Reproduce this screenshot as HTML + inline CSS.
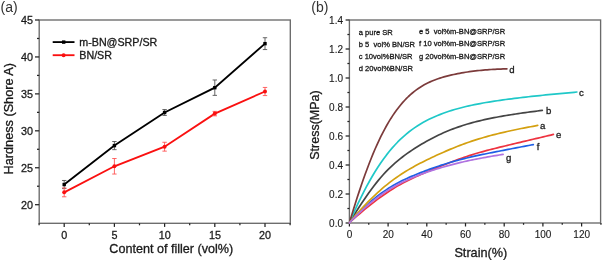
<!DOCTYPE html>
<html><head><meta charset="utf-8"><style>
html,body{margin:0;padding:0;background:#fff;width:602px;height:260px;overflow:hidden}
svg{display:block;will-change:transform}
text{font-family:"Liberation Sans", sans-serif;fill:#1a1a1a;stroke:#1a1a1a;stroke-width:0.3px}
</style></head><body>
<svg width="602" height="260" viewBox="0 0 602 260">
<text x="0.60" y="12.30" font-size="14.0" text-anchor="start" style="stroke-width:0px;fill:#333">(a)</text>
<text x="311.30" y="12.30" font-size="14.0" text-anchor="start" style="stroke-width:0px;fill:#333">(b)</text>
<rect x="39.2" y="20.0" width="251.10" height="203.30" fill="none" stroke="#6a6a6a" stroke-width="1.35"/>
<line x1="35.00" y1="204.70" x2="39.20" y2="204.70" stroke="#222" stroke-width="1.25"/>
<text x="33.00" y="208.50" font-size="10.8" text-anchor="end" style="stroke-width:0.28px">20</text>
<line x1="35.00" y1="167.76" x2="39.20" y2="167.76" stroke="#222" stroke-width="1.25"/>
<text x="33.00" y="171.56" font-size="10.8" text-anchor="end" style="stroke-width:0.28px">25</text>
<line x1="35.00" y1="130.82" x2="39.20" y2="130.82" stroke="#222" stroke-width="1.25"/>
<text x="33.00" y="134.62" font-size="10.8" text-anchor="end" style="stroke-width:0.28px">30</text>
<line x1="35.00" y1="93.88" x2="39.20" y2="93.88" stroke="#222" stroke-width="1.25"/>
<text x="33.00" y="97.68" font-size="10.8" text-anchor="end" style="stroke-width:0.28px">35</text>
<line x1="35.00" y1="56.94" x2="39.20" y2="56.94" stroke="#222" stroke-width="1.25"/>
<text x="33.00" y="60.74" font-size="10.8" text-anchor="end" style="stroke-width:0.28px">40</text>
<line x1="35.00" y1="20.00" x2="39.20" y2="20.00" stroke="#222" stroke-width="1.25"/>
<text x="33.00" y="23.80" font-size="10.8" text-anchor="end" style="stroke-width:0.28px">45</text>
<line x1="37.00" y1="186.23" x2="39.20" y2="186.23" stroke="#222" stroke-width="1.25"/>
<line x1="37.00" y1="149.29" x2="39.20" y2="149.29" stroke="#222" stroke-width="1.25"/>
<line x1="37.00" y1="112.35" x2="39.20" y2="112.35" stroke="#222" stroke-width="1.25"/>
<line x1="37.00" y1="75.41" x2="39.20" y2="75.41" stroke="#222" stroke-width="1.25"/>
<line x1="37.00" y1="38.47" x2="39.20" y2="38.47" stroke="#222" stroke-width="1.25"/>
<line x1="64.20" y1="223.30" x2="64.20" y2="226.90" stroke="#222" stroke-width="1.25"/>
<text x="64.30" y="238.70" font-size="10.8" text-anchor="middle" style="stroke-width:0.28px">0</text>
<line x1="114.40" y1="223.30" x2="114.40" y2="226.90" stroke="#222" stroke-width="1.25"/>
<text x="114.50" y="238.70" font-size="10.8" text-anchor="middle" style="stroke-width:0.28px">5</text>
<line x1="164.60" y1="223.30" x2="164.60" y2="226.90" stroke="#222" stroke-width="1.25"/>
<text x="164.70" y="238.70" font-size="10.8" text-anchor="middle" style="stroke-width:0.28px">10</text>
<line x1="214.80" y1="223.30" x2="214.80" y2="226.90" stroke="#222" stroke-width="1.25"/>
<text x="214.90" y="238.70" font-size="10.8" text-anchor="middle" style="stroke-width:0.28px">15</text>
<line x1="265.00" y1="223.30" x2="265.00" y2="226.90" stroke="#222" stroke-width="1.25"/>
<text x="265.10" y="238.70" font-size="10.8" text-anchor="middle" style="stroke-width:0.28px">20</text>
<line x1="39.10" y1="223.30" x2="39.10" y2="225.30" stroke="#222" stroke-width="1.25"/>
<line x1="89.30" y1="223.30" x2="89.30" y2="225.30" stroke="#222" stroke-width="1.25"/>
<line x1="139.50" y1="223.30" x2="139.50" y2="225.30" stroke="#222" stroke-width="1.25"/>
<line x1="189.70" y1="223.30" x2="189.70" y2="225.30" stroke="#222" stroke-width="1.25"/>
<line x1="239.90" y1="223.30" x2="239.90" y2="225.30" stroke="#222" stroke-width="1.25"/>
<line x1="290.10" y1="223.30" x2="290.10" y2="225.30" stroke="#222" stroke-width="1.25"/>
<text x="109.30" y="253.00" font-size="12.6" text-anchor="start" >Content of filler (vol%)</text>
<text x="13.30" y="118.70" font-size="12.7" text-anchor="middle" transform="rotate(-90 13.3 118.7)">Hardness (Shore A)</text>
<polyline points="64.20,184.53 114.40,145.60 164.60,112.50 214.80,87.67 265.00,43.64" fill="none" stroke="#000" stroke-width="1.85"/>
<line x1="64.20" y1="180.47" x2="64.20" y2="188.59" stroke="#555" stroke-width="0.9"/>
<line x1="62.00" y1="180.47" x2="66.40" y2="180.47" stroke="#555" stroke-width="0.9"/>
<line x1="62.00" y1="188.59" x2="66.40" y2="188.59" stroke="#555" stroke-width="0.9"/>
<rect x="62.50" y="182.83" width="3.4" height="3.4" fill="#000"/>
<line x1="114.40" y1="141.53" x2="114.40" y2="149.66" stroke="#555" stroke-width="0.9"/>
<line x1="112.20" y1="141.53" x2="116.60" y2="141.53" stroke="#555" stroke-width="0.9"/>
<line x1="112.20" y1="149.66" x2="116.60" y2="149.66" stroke="#555" stroke-width="0.9"/>
<rect x="112.70" y="143.90" width="3.4" height="3.4" fill="#000"/>
<line x1="164.60" y1="109.54" x2="164.60" y2="115.45" stroke="#555" stroke-width="0.9"/>
<line x1="162.40" y1="109.54" x2="166.80" y2="109.54" stroke="#555" stroke-width="0.9"/>
<line x1="162.40" y1="115.45" x2="166.80" y2="115.45" stroke="#555" stroke-width="0.9"/>
<rect x="162.90" y="110.80" width="3.4" height="3.4" fill="#000"/>
<line x1="214.80" y1="79.99" x2="214.80" y2="95.36" stroke="#555" stroke-width="0.9"/>
<line x1="212.60" y1="79.99" x2="217.00" y2="79.99" stroke="#555" stroke-width="0.9"/>
<line x1="212.60" y1="95.36" x2="217.00" y2="95.36" stroke="#555" stroke-width="0.9"/>
<rect x="213.10" y="85.97" width="3.4" height="3.4" fill="#000"/>
<line x1="265.00" y1="37.73" x2="265.00" y2="49.55" stroke="#555" stroke-width="0.9"/>
<line x1="262.80" y1="37.73" x2="267.20" y2="37.73" stroke="#555" stroke-width="0.9"/>
<line x1="262.80" y1="49.55" x2="267.20" y2="49.55" stroke="#555" stroke-width="0.9"/>
<rect x="263.30" y="41.94" width="3.4" height="3.4" fill="#000"/>
<polyline points="64.20,192.36 114.40,166.28 164.60,146.70 214.80,113.61 265.00,91.52" fill="none" stroke="#fa1010" stroke-width="1.85"/>
<line x1="64.20" y1="187.93" x2="64.20" y2="196.79" stroke="#f55" stroke-width="0.9"/>
<line x1="62.00" y1="187.93" x2="66.40" y2="187.93" stroke="#f55" stroke-width="0.9"/>
<line x1="62.00" y1="196.79" x2="66.40" y2="196.79" stroke="#f55" stroke-width="0.9"/>
<circle cx="64.20" cy="192.36" r="2.0" fill="#fa1010"/>
<line x1="114.40" y1="158.53" x2="114.40" y2="174.04" stroke="#f55" stroke-width="0.9"/>
<line x1="112.20" y1="158.53" x2="116.60" y2="158.53" stroke="#f55" stroke-width="0.9"/>
<line x1="112.20" y1="174.04" x2="116.60" y2="174.04" stroke="#f55" stroke-width="0.9"/>
<circle cx="114.40" cy="166.28" r="2.0" fill="#fa1010"/>
<line x1="164.60" y1="142.27" x2="164.60" y2="151.14" stroke="#f55" stroke-width="0.9"/>
<line x1="162.40" y1="142.27" x2="166.80" y2="142.27" stroke="#f55" stroke-width="0.9"/>
<line x1="162.40" y1="151.14" x2="166.80" y2="151.14" stroke="#f55" stroke-width="0.9"/>
<circle cx="164.60" cy="146.70" r="2.0" fill="#fa1010"/>
<line x1="214.80" y1="111.39" x2="214.80" y2="115.82" stroke="#f55" stroke-width="0.9"/>
<line x1="212.60" y1="111.39" x2="217.00" y2="111.39" stroke="#f55" stroke-width="0.9"/>
<line x1="212.60" y1="115.82" x2="217.00" y2="115.82" stroke="#f55" stroke-width="0.9"/>
<circle cx="214.80" cy="113.61" r="2.0" fill="#fa1010"/>
<line x1="265.00" y1="87.45" x2="265.00" y2="95.58" stroke="#f55" stroke-width="0.9"/>
<line x1="262.80" y1="87.45" x2="267.20" y2="87.45" stroke="#f55" stroke-width="0.9"/>
<line x1="262.80" y1="95.58" x2="267.20" y2="95.58" stroke="#f55" stroke-width="0.9"/>
<circle cx="265.00" cy="91.52" r="2.0" fill="#fa1010"/>
<line x1="52.70" y1="42.10" x2="74.50" y2="42.10" stroke="#000" stroke-width="1.85"/>
<rect x="62.0" y="40.4" width="3.4" height="3.4" fill="#000"/>
<line x1="52.70" y1="55.20" x2="74.50" y2="55.20" stroke="#fa1010" stroke-width="1.85"/>
<circle cx="63.6" cy="55.2" r="2.0" fill="#fa1010"/>
<text x="79.30" y="46.00" font-size="10.7" text-anchor="start" >m-BN@SRP/SR</text>
<text x="79.30" y="58.80" font-size="10.7" text-anchor="start" >BN/SR</text>
<rect x="349.4" y="20.0" width="251.20" height="203.00" fill="none" stroke="#6a6a6a" stroke-width="1.35"/>
<line x1="345.60" y1="223.00" x2="349.40" y2="223.00" stroke="#222" stroke-width="1.25"/>
<text x="343.00" y="226.50" font-size="10.0" text-anchor="end" style="stroke-width:0.12px">0.0</text>
<line x1="345.60" y1="194.00" x2="349.40" y2="194.00" stroke="#222" stroke-width="1.25"/>
<text x="343.00" y="197.50" font-size="10.0" text-anchor="end" style="stroke-width:0.12px">0.2</text>
<line x1="345.60" y1="165.00" x2="349.40" y2="165.00" stroke="#222" stroke-width="1.25"/>
<text x="343.00" y="168.50" font-size="10.0" text-anchor="end" style="stroke-width:0.12px">0.4</text>
<line x1="345.60" y1="136.00" x2="349.40" y2="136.00" stroke="#222" stroke-width="1.25"/>
<text x="343.00" y="139.50" font-size="10.0" text-anchor="end" style="stroke-width:0.12px">0.6</text>
<line x1="345.60" y1="107.00" x2="349.40" y2="107.00" stroke="#222" stroke-width="1.25"/>
<text x="343.00" y="110.50" font-size="10.0" text-anchor="end" style="stroke-width:0.12px">0.8</text>
<line x1="345.60" y1="78.00" x2="349.40" y2="78.00" stroke="#222" stroke-width="1.25"/>
<text x="343.00" y="81.50" font-size="10.0" text-anchor="end" style="stroke-width:0.12px">1.0</text>
<line x1="345.60" y1="49.00" x2="349.40" y2="49.00" stroke="#222" stroke-width="1.25"/>
<text x="343.00" y="52.50" font-size="10.0" text-anchor="end" style="stroke-width:0.12px">1.2</text>
<line x1="345.60" y1="20.00" x2="349.40" y2="20.00" stroke="#222" stroke-width="1.25"/>
<text x="343.00" y="23.50" font-size="10.0" text-anchor="end" style="stroke-width:0.12px">1.4</text>
<line x1="347.40" y1="208.50" x2="349.40" y2="208.50" stroke="#222" stroke-width="1.25"/>
<line x1="347.40" y1="179.50" x2="349.40" y2="179.50" stroke="#222" stroke-width="1.25"/>
<line x1="347.40" y1="150.50" x2="349.40" y2="150.50" stroke="#222" stroke-width="1.25"/>
<line x1="347.40" y1="121.50" x2="349.40" y2="121.50" stroke="#222" stroke-width="1.25"/>
<line x1="347.40" y1="92.50" x2="349.40" y2="92.50" stroke="#222" stroke-width="1.25"/>
<line x1="347.40" y1="63.50" x2="349.40" y2="63.50" stroke="#222" stroke-width="1.25"/>
<line x1="347.40" y1="34.50" x2="349.40" y2="34.50" stroke="#222" stroke-width="1.25"/>
<line x1="349.40" y1="223.00" x2="349.40" y2="226.50" stroke="#222" stroke-width="1.25"/>
<text x="349.50" y="238.40" font-size="10.0" text-anchor="middle" style="stroke-width:0.12px">0</text>
<line x1="388.10" y1="223.00" x2="388.10" y2="226.50" stroke="#222" stroke-width="1.25"/>
<text x="388.20" y="238.40" font-size="10.0" text-anchor="middle" style="stroke-width:0.12px">20</text>
<line x1="426.80" y1="223.00" x2="426.80" y2="226.50" stroke="#222" stroke-width="1.25"/>
<text x="426.90" y="238.40" font-size="10.0" text-anchor="middle" style="stroke-width:0.12px">40</text>
<line x1="465.50" y1="223.00" x2="465.50" y2="226.50" stroke="#222" stroke-width="1.25"/>
<text x="465.60" y="238.40" font-size="10.0" text-anchor="middle" style="stroke-width:0.12px">60</text>
<line x1="504.20" y1="223.00" x2="504.20" y2="226.50" stroke="#222" stroke-width="1.25"/>
<text x="504.30" y="238.40" font-size="10.0" text-anchor="middle" style="stroke-width:0.12px">80</text>
<line x1="542.90" y1="223.00" x2="542.90" y2="226.50" stroke="#222" stroke-width="1.25"/>
<text x="543.00" y="238.40" font-size="10.0" text-anchor="middle" style="stroke-width:0.12px">100</text>
<line x1="581.60" y1="223.00" x2="581.60" y2="226.50" stroke="#222" stroke-width="1.25"/>
<text x="581.70" y="238.40" font-size="10.0" text-anchor="middle" style="stroke-width:0.12px">120</text>
<line x1="368.75" y1="223.00" x2="368.75" y2="224.80" stroke="#222" stroke-width="1.25"/>
<line x1="407.45" y1="223.00" x2="407.45" y2="224.80" stroke="#222" stroke-width="1.25"/>
<line x1="446.15" y1="223.00" x2="446.15" y2="224.80" stroke="#222" stroke-width="1.25"/>
<line x1="484.85" y1="223.00" x2="484.85" y2="224.80" stroke="#222" stroke-width="1.25"/>
<line x1="523.55" y1="223.00" x2="523.55" y2="224.80" stroke="#222" stroke-width="1.25"/>
<line x1="562.25" y1="223.00" x2="562.25" y2="224.80" stroke="#222" stroke-width="1.25"/>
<line x1="600.95" y1="223.00" x2="600.95" y2="224.80" stroke="#222" stroke-width="1.25"/>
<text x="454.40" y="257.10" font-size="12.7" text-anchor="start" >Strain(%)</text>
<text x="318.80" y="125.00" font-size="12.5" text-anchor="middle" transform="rotate(-90 318.8 125.0)">Stress(MPa)</text>
<polyline points="349.40,222.80 351.81,218.78 354.22,214.85 356.63,210.99 359.04,207.22 361.46,203.53 363.87,199.92 366.28,196.41 368.69,192.99 371.10,189.68 373.51,186.46 375.92,183.37 378.33,180.38 380.75,177.52 383.16,174.78 385.57,172.16 387.98,169.67 390.39,167.29 392.80,165.03 395.21,162.87 397.62,160.81 400.04,158.85 402.45,156.97 404.86,155.16 407.27,153.42 409.68,151.74 412.09,150.12 414.50,148.54 416.91,147.01 419.33,145.52 421.74,144.07 424.15,142.67 426.56,141.30 428.97,139.97 431.38,138.68 433.79,137.43 436.20,136.22 438.62,135.06 441.03,133.93 443.44,132.84 445.85,131.80 448.26,130.79 450.67,129.83 453.08,128.90 455.50,128.01 457.91,127.15 460.32,126.33 462.73,125.54 465.14,124.78 467.55,124.06 469.96,123.36 472.37,122.69 474.78,122.05 477.20,121.43 479.61,120.83 482.02,120.25 484.43,119.70 486.84,119.17 489.25,118.65 491.66,118.16 494.07,117.68 496.49,117.21 498.90,116.77 501.31,116.33 503.72,115.91 506.13,115.51 508.54,115.11 510.95,114.73 513.37,114.35 515.78,113.98 518.19,113.63 520.60,113.27 523.01,112.93 525.42,112.59 527.83,112.26 530.24,111.93 532.65,111.61 535.07,111.29 537.48,110.98 539.89,110.67 542.30,110.37" fill="none" stroke="#444444" stroke-width="1.7" stroke-linejoin="round" stroke-linecap="round"/>
<polyline points="349.40,222.80 352.24,216.22 355.09,209.86 357.93,203.73 360.77,197.82 363.62,192.15 366.46,186.70 369.31,181.49 372.15,176.51 374.99,171.77 377.84,167.27 380.68,163.00 383.52,158.96 386.37,155.15 389.21,151.55 392.06,148.16 394.90,144.97 397.74,141.97 400.59,139.17 403.43,136.54 406.27,134.07 409.12,131.77 411.96,129.62 414.81,127.61 417.65,125.73 420.49,123.97 423.34,122.32 426.18,120.77 429.02,119.33 431.87,117.96 434.71,116.68 437.56,115.48 440.40,114.34 443.24,113.27 446.09,112.25 448.93,111.29 451.77,110.39 454.62,109.53 457.46,108.72 460.31,107.95 463.15,107.22 465.99,106.52 468.84,105.87 471.68,105.24 474.52,104.65 477.37,104.08 480.21,103.54 483.06,103.02 485.90,102.53 488.74,102.05 491.59,101.60 494.43,101.16 497.27,100.73 500.12,100.32 502.96,99.92 505.81,99.53 508.65,99.16 511.49,98.79 514.34,98.43 517.18,98.08 520.02,97.74 522.87,97.40 525.71,97.08 528.56,96.76 531.40,96.45 534.24,96.14 537.09,95.84 539.93,95.55 542.77,95.26 545.62,94.97 548.46,94.69 551.31,94.42 554.15,94.14 556.99,93.87 559.84,93.60 562.68,93.34 565.52,93.07 568.37,92.81 571.21,92.54 574.06,92.28 576.90,92.02" fill="none" stroke="#1fc8c8" stroke-width="1.7" stroke-linejoin="round" stroke-linecap="round"/>
<polyline points="349.40,222.80 351.37,216.22 353.34,209.79 355.31,203.50 357.27,197.36 359.24,191.36 361.21,185.52 363.18,179.84 365.15,174.32 367.12,168.96 369.09,163.78 371.06,158.77 373.02,153.94 374.99,149.29 376.96,144.83 378.93,140.55 380.90,136.46 382.87,132.55 384.84,128.82 386.81,125.27 388.77,121.89 390.74,118.68 392.71,115.63 394.68,112.74 396.65,110.00 398.62,107.42 400.59,104.97 402.56,102.66 404.52,100.48 406.49,98.43 408.46,96.50 410.43,94.69 412.40,92.99 414.37,91.39 416.34,89.90 418.31,88.50 420.27,87.20 422.24,85.98 424.21,84.85 426.18,83.79 428.15,82.80 430.12,81.88 432.09,81.03 434.06,80.23 436.02,79.48 437.99,78.78 439.96,78.13 441.93,77.51 443.90,76.93 445.87,76.39 447.84,75.87 449.81,75.38 451.77,74.92 453.74,74.48 455.71,74.06 457.68,73.66 459.65,73.29 461.62,72.93 463.59,72.59 465.56,72.27 467.52,71.97 469.49,71.68 471.46,71.41 473.43,71.16 475.40,70.92 477.37,70.70 479.34,70.49 481.31,70.30 483.27,70.11 485.24,69.95 487.21,69.79 489.18,69.65 491.15,69.52 493.12,69.40 495.09,69.29 497.06,69.19 499.02,69.11 500.99,69.03 502.96,68.97 504.93,68.91 506.90,68.87" fill="none" stroke="#7c3b3b" stroke-width="1.7" stroke-linejoin="round" stroke-linecap="round"/>
<polyline points="349.40,222.80 351.95,220.49 354.50,218.21 357.05,215.97 359.60,213.77 362.15,211.60 364.70,209.47 367.25,207.38 369.80,205.33 372.35,203.32 374.90,201.35 377.45,199.42 380.00,197.54 382.55,195.71 385.10,193.94 387.65,192.21 390.20,190.54 392.75,188.93 395.30,187.37 397.85,185.87 400.40,184.43 402.95,183.03 405.50,181.69 408.05,180.40 410.60,179.15 413.15,177.94 415.70,176.77 418.25,175.62 420.80,174.51 423.35,173.41 425.90,172.33 428.45,171.26 431.00,170.20 433.55,169.14 436.10,168.10 438.65,167.06 441.20,166.02 443.75,165.00 446.30,163.98 448.85,162.98 451.40,161.99 453.95,161.02 456.50,160.07 459.05,159.14 461.60,158.23 464.15,157.34 466.70,156.48 469.25,155.65 471.80,154.84 474.35,154.05 476.90,153.29 479.45,152.54 482.00,151.82 484.55,151.12 487.10,150.44 489.65,149.77 492.20,149.11 494.75,148.46 497.30,147.83 499.85,147.20 502.40,146.58 504.95,145.96 507.50,145.35 510.05,144.73 512.60,144.12 515.15,143.52 517.70,142.91 520.25,142.30 522.80,141.70 525.35,141.09 527.90,140.48 530.45,139.88 533.00,139.28 535.55,138.67 538.10,138.07 540.65,137.46 543.20,136.86 545.75,136.26 548.30,135.66 550.85,135.05 553.40,134.45" fill="none" stroke="#ee3340" stroke-width="1.7" stroke-linejoin="round" stroke-linecap="round"/>
<polyline points="349.40,222.80 351.70,220.27 354.00,217.81 356.30,215.40 358.59,213.06 360.89,210.77 363.19,208.55 365.49,206.38 367.79,204.28 370.09,202.24 372.39,200.27 374.69,198.36 376.98,196.51 379.28,194.74 381.58,193.03 383.88,191.39 386.18,189.83 388.48,188.33 390.78,186.89 393.08,185.52 395.38,184.21 397.67,182.96 399.97,181.76 402.27,180.61 404.57,179.50 406.87,178.43 409.17,177.39 411.47,176.39 413.76,175.41 416.06,174.46 418.36,173.53 420.66,172.62 422.96,171.73 425.26,170.86 427.56,170.00 429.86,169.16 432.15,168.33 434.45,167.52 436.75,166.73 439.05,165.95 441.35,165.18 443.65,164.44 445.95,163.71 448.25,163.00 450.54,162.31 452.84,161.64 455.14,160.99 457.44,160.36 459.74,159.74 462.04,159.15 464.34,158.57 466.64,158.01 468.93,157.46 471.23,156.93 473.53,156.41 475.83,155.90 478.13,155.40 480.43,154.91 482.73,154.43 485.03,153.96 487.32,153.49 489.62,153.03 491.92,152.57 494.22,152.12 496.52,151.66 498.82,151.21 501.12,150.77 503.42,150.32 505.71,149.87 508.01,149.43 510.31,148.98 512.61,148.54 514.91,148.10 517.21,147.66 519.51,147.22 521.81,146.78 524.11,146.34 526.40,145.90 528.70,145.46 531.00,145.03 533.30,144.59" fill="none" stroke="#1f5fe6" stroke-width="1.7" stroke-linejoin="round" stroke-linecap="round"/>
<polyline points="349.40,222.80 351.75,219.94 354.11,217.14 356.46,214.41 358.81,211.74 361.17,209.13 363.52,206.58 365.88,204.10 368.23,201.68 370.58,199.32 372.94,197.03 375.29,194.79 377.64,192.62 380.00,190.51 382.35,188.46 384.71,186.47 387.06,184.55 389.41,182.68 391.77,180.88 394.12,179.14 396.48,177.46 398.83,175.84 401.18,174.27 403.54,172.76 405.89,171.29 408.24,169.87 410.60,168.50 412.95,167.16 415.31,165.86 417.66,164.59 420.01,163.36 422.37,162.14 424.72,160.96 427.07,159.79 429.43,158.65 431.78,157.52 434.13,156.42 436.49,155.33 438.84,154.26 441.20,153.20 443.55,152.17 445.90,151.14 448.26,150.14 450.61,149.15 452.97,148.19 455.32,147.24 457.67,146.30 460.03,145.39 462.38,144.50 464.73,143.64 467.09,142.79 469.44,141.97 471.80,141.17 474.15,140.39 476.50,139.63 478.86,138.90 481.21,138.19 483.56,137.50 485.92,136.83 488.27,136.18 490.62,135.54 492.98,134.92 495.33,134.32 497.69,133.73 500.04,133.16 502.39,132.60 504.75,132.06 507.10,131.52 509.46,131.00 511.81,130.48 514.16,129.98 516.52,129.49 518.87,129.01 521.22,128.53 523.58,128.07 525.93,127.61 528.29,127.16 530.64,126.73 532.99,126.30 535.35,125.87 537.70,125.46" fill="none" stroke="#d4a010" stroke-width="1.7" stroke-linejoin="round" stroke-linecap="round"/>
<polyline points="349.40,222.80 351.32,220.77 353.24,218.78 355.16,216.84 357.08,214.94 359.01,213.08 360.93,211.27 362.85,209.50 364.77,207.78 366.69,206.09 368.61,204.46 370.53,202.86 372.45,201.31 374.38,199.80 376.30,198.34 378.22,196.91 380.14,195.53 382.06,194.19 383.98,192.88 385.90,191.62 387.82,190.39 389.75,189.20 391.67,188.05 393.59,186.93 395.51,185.85 397.43,184.81 399.35,183.79 401.27,182.81 403.19,181.86 405.12,180.94 407.04,180.04 408.96,179.18 410.88,178.34 412.80,177.53 414.72,176.74 416.64,175.97 418.56,175.23 420.49,174.50 422.41,173.80 424.33,173.11 426.25,172.43 428.17,171.77 430.09,171.13 432.01,170.49 433.94,169.87 435.86,169.26 437.78,168.67 439.70,168.08 441.62,167.51 443.54,166.94 445.46,166.39 447.38,165.86 449.31,165.33 451.23,164.81 453.15,164.31 455.07,163.82 456.99,163.34 458.91,162.87 460.83,162.41 462.75,161.96 464.68,161.53 466.60,161.10 468.52,160.68 470.44,160.27 472.36,159.87 474.28,159.48 476.20,159.10 478.12,158.72 480.05,158.35 481.97,157.99 483.89,157.63 485.81,157.29 487.73,156.94 489.65,156.60 491.57,156.27 493.49,155.94 495.42,155.62 497.34,155.30 499.26,154.99 501.18,154.68 503.10,154.38" fill="none" stroke="#b072e0" stroke-width="1.7" stroke-linejoin="round" stroke-linecap="round"/>
<text x="579.00" y="96.00" font-size="9.6" text-anchor="start" >c</text>
<text x="546.00" y="113.60" font-size="9.6" text-anchor="start" >b</text>
<text x="540.00" y="129.00" font-size="9.6" text-anchor="start" >a</text>
<text x="556.00" y="138.40" font-size="9.6" text-anchor="start" >e</text>
<text x="536.80" y="149.60" font-size="9.6" text-anchor="start" >f</text>
<text x="506.00" y="161.00" font-size="9.6" text-anchor="start" >g</text>
<text x="509.20" y="73.00" font-size="9.6" text-anchor="start" >d</text>
<text x="358.80" y="34.60" font-size="7.55" text-anchor="start" >a pure SR</text>
<text x="358.80" y="46.80" font-size="7.55" text-anchor="start" >b&#160;5&#160;&#160;vol%&#160;BN/SR</text>
<text x="358.80" y="59.00" font-size="7.55" text-anchor="start" >c 10vol%BN/SR</text>
<text x="358.80" y="71.20" font-size="7.55" text-anchor="start" >d 20vol%BN/SR</text>
<text x="419.00" y="33.80" font-size="7.55" text-anchor="start" >e 5&#160; vol%m-BN@SRP/SR</text>
<text x="419.00" y="46.15" font-size="7.55" text-anchor="start" >f 10 vol%m-BN@SRP/SR</text>
<text x="419.00" y="58.50" font-size="7.55" text-anchor="start" >g 20vol%m-BN@SRP/SR</text>
</svg>
</body></html>
